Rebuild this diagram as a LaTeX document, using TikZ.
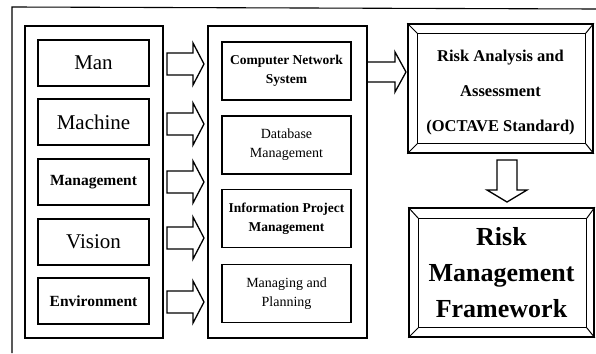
\documentclass[tikz,border=0pt]{standalone}
\usepackage{fontspec}
\setmainfont{Liberation Serif}
\usetikzlibrary{calc}
\begin{document}
\begin{tikzpicture}[x=1pt,y=-1pt,
 panel/.style={draw,line width=1.2pt,inner sep=0pt,outer sep=0pt},
 lbox/.style={draw,line width=1.4pt,minimum width=111pt,minimum height=46pt,inner sep=0pt,align=center},
 mbox/.style={draw,line width=1.4pt,minimum width=129pt,minimum height=58pt,inner sep=0pt,align=center},
 bevel/.style={draw,line width=1.7pt,minimum width=185pt,minimum height=129pt,inner sep=0pt},
 big/.style={font=\fontsize{21}{24}\selectfont},
 bld/.style={font=\fontsize{15.5}{18}\selectfont\bfseries},
 mtxt/.style={font=\fontsize{14}{19}\selectfont},
 mtxtb/.style={font=\fontsize{13.5}{19}\selectfont\bfseries},
 pics/blockarrow/.style n args={4}{code={
   \draw[line width=1.3pt,line join=miter] (-#1/2,-#2) -- (#1/2-#4,-#2) -- (#1/2-#4,-#3) -- (#1/2,0)
     -- (#1/2-#4,#3) -- (#1/2-#4,#2) -- (-#1/2,#2) -- cycle;}},
]
\useasboundingbox (0,0) rectangle (596,353);
\coordinate (fr1) at (596,9);
\coordinate (fr2) at (12,7);
\coordinate (fr3) at (12,353);
\draw[line width=1.1pt] (fr1) -- (fr2) -- (fr3);

% panels
\node[panel,minimum width=138pt,minimum height=312pt] (lp) at (94,182) {};
\node[panel,minimum width=159pt,minimum height=312pt] (mp) at (287.5,182) {};

% left boxes
\node[lbox,big] (man) at (93.5,63) {Man};
\node[lbox,big] (mach) at (93.5,122) {Machine};
\node[lbox,bld] (mgmt) at (93.5,182) {Management};
\node[lbox,big] (vis) at (93.5,242) {Vision};
\node[lbox,bld] (env) at (93.5,301) {Environment};

% arrows left -> middle
\pic (a1) at (185.5,64) {blockarrow={37}{11}{21}{11}};
\pic (a2) at (185.5,124) {blockarrow={37}{11}{21}{11}};
\pic (a3) at (185.5,182) {blockarrow={37}{11}{21}{11}};
\pic (a4) at (185.5,238) {blockarrow={37}{11}{21}{11}};
\pic (a5) at (185.5,302) {blockarrow={37}{11}{21}{11}};

% middle boxes
\node[mbox,mtxtb] (cn) at (286.5,71) {Computer Network\\System};
\node[mbox,mtxt] (db) at (286.5,145) {Database\\Management};
\node[mbox,mtxtb] (ip) at (286.5,218.5) {Information Project\\Management};
\node[mbox,mtxt] (mpl) at (286.5,293.5) {Managing and\\Planning};

% arrow to risk analysis
\pic (a6) at (386.5,72) {blockarrow={39}{10}{20}{11}};

% risk analysis bevel box
\node[bevel] (ra) at (500.5,88.5) {};
\draw[line width=1.2pt] ([shift={(10pt,-10pt)}]ra.north west) coordinate (ra1)
  rectangle ([shift={(-8pt,10pt)}]ra.south east) coordinate (ra3);
\draw[line width=1pt] (ra.north west) -- (ra1);
\draw[line width=1pt] (ra.south east) -- (ra3);
\draw[line width=1pt] (ra.north east) -- (ra3 |- ra1);
\draw[line width=1pt] (ra.south west) -- (ra1 |- ra3);
\node[align=center,font=\fontsize{16.5}{35}\selectfont\bfseries] (rat) at (500.5,93) {Risk Analysis and\\Assessment\\(OCTAVE Standard)};

% down arrow
\pic[rotate=-90] (a7) at (507,181) {blockarrow={42}{10}{20}{12}};

% risk management framework bevel box
\node[bevel] (rm) at (501.5,272.5) {};
\draw[line width=1.2pt] ([shift={(10pt,-11pt)}]rm.north west) coordinate (rm1)
  rectangle ([shift={(-8pt,10pt)}]rm.south east) coordinate (rm3);
\draw[line width=1pt] (rm.north west) -- (rm1);
\draw[line width=1pt] (rm.south east) -- (rm3);
\draw[line width=1pt] (rm.north east) -- (rm3 |- rm1);
\draw[line width=1pt] (rm.south west) -- (rm1 |- rm3);
\node[align=center,font=\fontsize{26}{36}\selectfont\bfseries] (rmt) at (501.5,273) {Risk\\Management\\Framework};
\end{tikzpicture}
\end{document}
